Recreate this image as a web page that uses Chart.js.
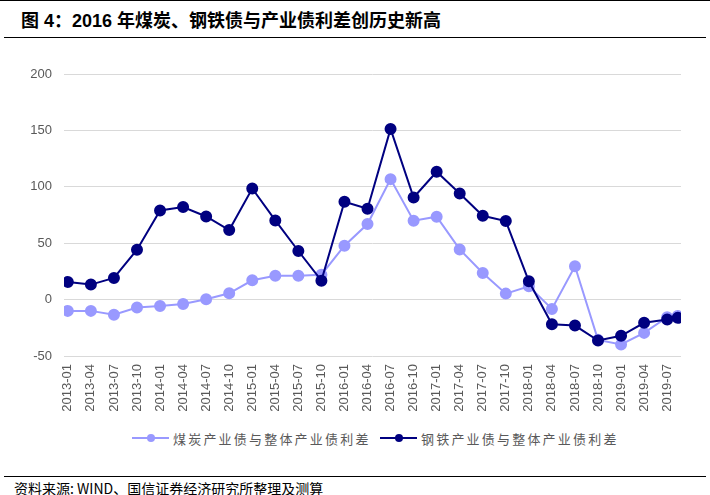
<!DOCTYPE html>
<html>
<head>
<meta charset="utf-8">
<script src="https://cdn.jsdelivr.net/npm/chart.js@4"></script>
<style>
  body { margin: 0; background: #fff; }
  #wrap { position: relative; width: 710px; height: 495px; overflow: hidden; font-family: "Liberation Sans", Arial, sans-serif; }
  .rule { position: absolute; left: 4px; right: 4px; height: 1px; background: #000; }
  #title { position: absolute; left: 21px; top: 6px; font: bold 18px "Liberation Sans", "Noto Sans CJK SC", sans-serif; color: #000; white-space: nowrap; }
  #chartBox { position: absolute; left: 0; top: 40px; width: 710px; height: 380px; }
  #legend { position: absolute; left: 0; top: 428px; width: 710px; height: 20px; }
  .item { position: absolute; top: 0; height: 20px; }
  .item .ln { position: absolute; left: 0; top: 9px; width: 37px; height: 2px; }
  .item .dot { position: absolute; left: 15px; top: 6px; width: 8px; height: 8px; border-radius: 50%; }
  .item .tx { position: absolute; left: 41px; top: 1px; font: 13px "Noto Sans CJK SC", sans-serif; letter-spacing: 2.2px; color: #595959; white-space: nowrap; }
  #source { position: absolute; left: 14px; top: 478px; font: 14px "Noto Sans CJK SC", sans-serif; color: #000; white-space: nowrap; }
</style>
</head>
<body>
<div id="wrap">
  <div class="rule" style="top:0px;left:0;right:0;"></div>
  <div id="title">图 4：2016 年煤炭、钢铁债与产业债利差创历史新高</div>
  <div class="rule" style="top:37px;"></div>
  <div id="chartBox"><canvas id="myChart"></canvas></div>
  <div id="legend"></div>
  <div class="rule" style="top:476px;"></div>
  <div id="source">资料来源: WIND、国信证券经济研究所整理及测算</div>
</div>
<script>
// 日期
const dates = [
  "2013-01-01", "2013-04-01", "2013-07-01", "2013-10-01",
  "2014-01-01", "2014-04-01", "2014-07-01", "2014-10-01",
  "2015-01-01", "2015-04-01", "2015-07-01", "2015-10-01",
  "2016-01-01", "2016-04-01", "2016-07-01", "2016-10-01",
  "2017-01-01", "2017-04-01", "2017-07-01", "2017-10-01",
  "2018-01-01", "2018-04-01", "2018-07-01", "2018-10-01",
  "2019-01-01", "2019-04-01", "2019-07-01", "2019-08-12"
];

// 煤炭产业债与整体产业债利差
const coalSpread = [
  -10.0, -10.0, -13.5, -7.1,
  -5.6, -3.8, 0.3, 5.6,
  17.1, 21.2, 21.2, 22.1,
  47.8, 67.0, 106.8, 69.9,
  73.5, 44.5, 23.6, 5.3,
  11.8, -8.3, 29.5, -35.7,
  -39.8, -29.5, -15.6, -14.5
];

// 钢铁产业债与整体产业债利差
const steelSpread = [
  15.6, 13.3, 19.2, 44.2,
  79.0, 82.0, 73.7, 61.7,
  98.5, 70.2, 43.1, 16.8,
  86.7, 80.5, 151.3, 90.5,
  113.3, 94.1, 74.3, 69.6,
  16.2, -21.8, -23.0, -36.3,
  -32.1, -20.6, -17.7, -16.2
];

// 横轴刻度
const tickLabels = [
  "2013-01", "2013-04", "2013-07", "2013-10",
  "2014-01", "2014-04", "2014-07", "2014-10",
  "2015-01", "2015-04", "2015-07", "2015-10",
  "2016-01", "2016-04", "2016-07", "2016-10",
  "2017-01", "2017-04", "2017-07", "2017-10",
  "2018-01", "2018-04", "2018-07", "2018-10",
  "2019-01", "2019-04", "2019-07"
];

const yTicks = [-50, 0, 50, 100, 150, 200];

const seriesNames = ["煤炭产业债与整体产业债利差", "钢铁产业债与整体产业债利差"];
const seriesColors = ["#9999FF", "#000080"];

// 月份序号 (2013-01 = 0)
function monthIndex(s) {
  const p = s.split("-").map(Number);
  const day = p[2] || 1;
  return (p[0] - 2013) * 12 + (p[1] - 1) + (day - 1) / 30;
}

function toPoints(values) {
  return values.map((v, i) => ({ x: monthIndex(dates[i]), y: v }));
}

const tickValues = tickLabels.map(monthIndex);
const labelByValue = {};
tickLabels.forEach((t, i) => { labelByValue[tickValues[i]] = t; });

function makeDataset(name, color, values, order) {
  return {
    label: name,
    data: toPoints(values),
    borderColor: color,
    backgroundColor: color,
    pointBackgroundColor: color,
    pointBorderColor: color,
    borderWidth: 2,
    pointRadius: 5,
    pointHoverRadius: 5,
    tension: 0,
    order: order
  };
}

const ctx = document.getElementById("myChart");

const myChart = new Chart(ctx, {
  type: "line",
  data: {
    datasets: [
      makeDataset(seriesNames[0], seriesColors[0], coalSpread, 2),
      makeDataset(seriesNames[1], seriesColors[1], steelSpread, 1)
    ]
  },
  options: {
    responsive: true,
    maintainAspectRatio: false,
    animation: false,
    layout: { padding: { top: 34, right: 29, bottom: 0, left: 0 } },
    plugins: {
      legend: { display: false },
      tooltip: { enabled: false }
    },
    scales: {
      x: {
        type: "linear",
        min: -0.5,
        max: 79.8,
        grid: { display: false, drawTicks: false },
        border: { display: false },
        afterBuildTicks: (scale) => {
          scale.ticks = tickValues.map(v => ({ value: v }));
        },
        afterFit: (scale) => { scale.height = 64; },
        ticks: {
          autoSkip: false,
          minRotation: 90,
          maxRotation: 90,
          padding: 8,
          color: "#595959",
          font: { family: "'Liberation Sans', Arial, sans-serif", size: 13 },
          callback: (v) => labelByValue[v] || ""
        }
      },
      y: {
        min: -50,
        max: 200,
        afterBuildTicks: (scale) => {
          scale.ticks = yTicks.map(v => ({ value: v }));
        },
        afterFit: (scale) => { scale.width = 64; },
        grid: { color: "#d9d9d9", lineWidth: 1, drawTicks: false },
        border: { display: false },
        ticks: {
          padding: 12,
          color: "#595959",
          font: { family: "'Liberation Sans', Arial, sans-serif", size: 13 }
        }
      }
    }
  }
});

// 图例
const legendPos = [132, 380];
const legend = document.getElementById("legend");
seriesNames.forEach((name, i) => {
  const item = document.createElement("div");
  item.className = "item";
  item.style.left = legendPos[i] + "px";
  item.innerHTML =
    '<div class="ln" style="background:' + seriesColors[i] + '"></div>' +
    '<div class="dot" style="background:' + seriesColors[i] + '"></div>' +
    '<div class="tx">' + name + '</div>';
  legend.appendChild(item);
});
</script>
</body>
</html>
